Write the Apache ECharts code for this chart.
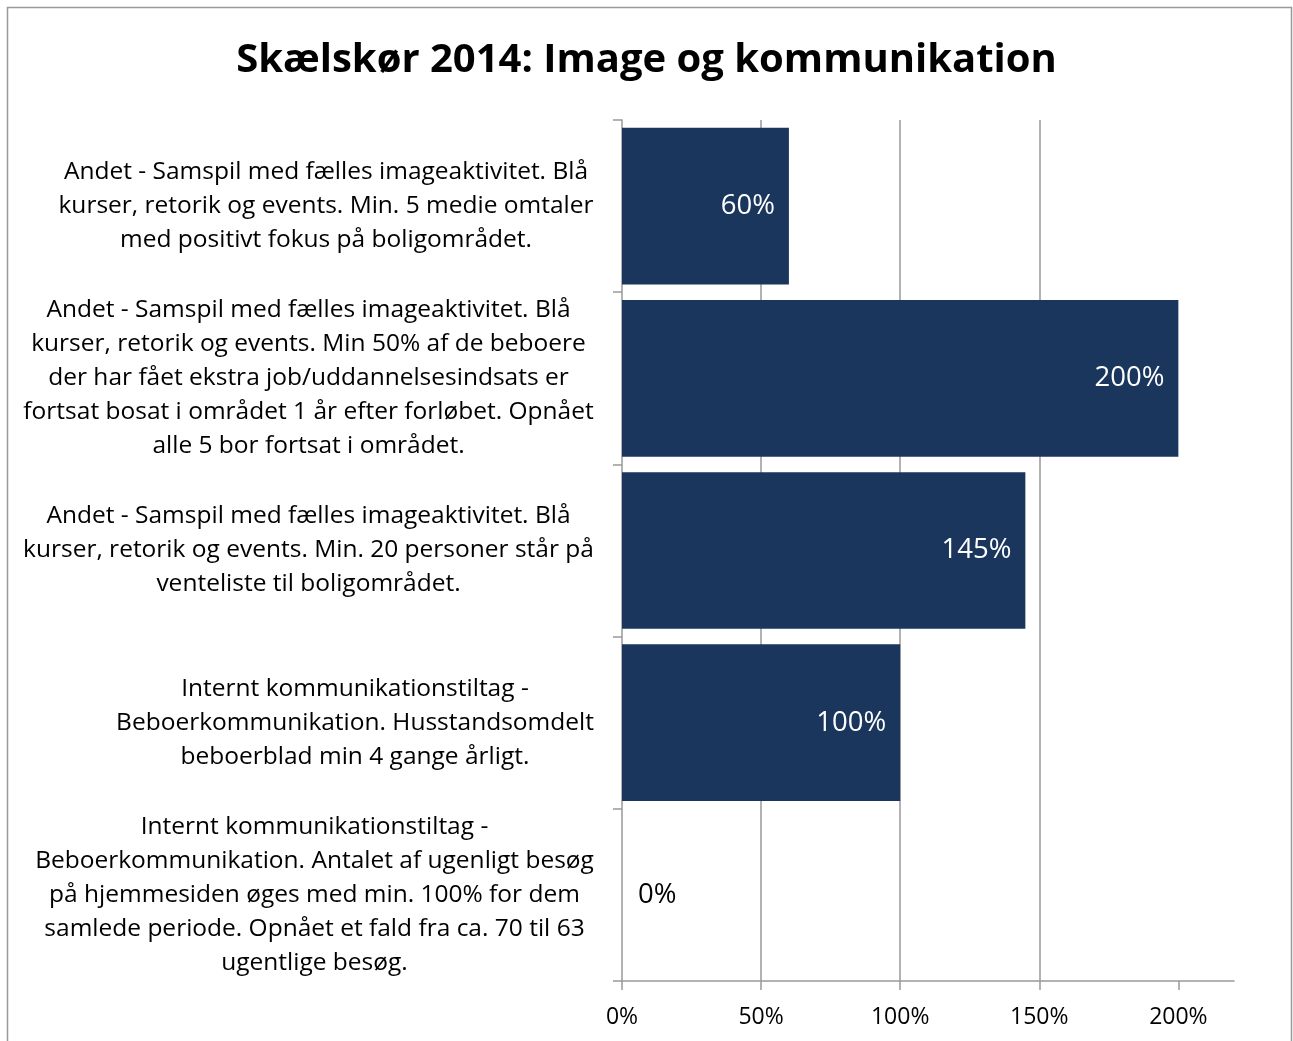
<!DOCTYPE html>
<html>
<head>
<meta charset="utf-8">
<script src="https://cdn.jsdelivr.net/npm/echarts@6/dist/echarts.min.js"></script>
<style>
html, body { margin: 0; padding: 0; background: #fff; }
#chart { width: 1293px; height: 1041px; }
</style>
</head>
<body>
<div id="chart"></div>
<script>
var categories = [
	'Andet - Samspil med fælles imageaktivitet. Blå\nkurser, retorik og events. Min. 5 medie omtaler\nmed positivt fokus på boligområdet.',
	'Andet - Samspil med fælles imageaktivitet. Blå\nkurser, retorik og events. Min 50% af de beboere\nder har fået ekstra job/uddannelsesindsats er\nfortsat bosat i området 1 år efter forløbet. Opnået\nalle 5 bor fortsat i området.',
	'Andet - Samspil med fælles imageaktivitet. Blå\nkurser, retorik og events. Min. 20 personer står på\nventeliste til boligområdet.',
	'Internt kommunikationstiltag -\nBeboerkommunikation. Husstandsomdelt\nbeboerblad min 4 gange årligt.',
	'Internt kommunikationstiltag -\nBeboerkommunikation. Antalet af ugenligt besøg\npå hjemmesiden øges med min. 100% for dem\nsamlede periode. Opnået et fald fra ca. 70 til 63\nugentlige besøg.'
];
var values = [60, 200, 145, 100, 0];
var xTicks = [0, 50, 100, 150, 200];

var FONT = '"Open Sans", sans-serif';
var catSize = 24.5;

// measure each label so its lines can be centred inside a right-aligned block
var ctx = document.createElement('canvas').getContext('2d');
ctx.font = catSize + 'px "Open Sans"';
var rich = {};
categories.forEach(function(c, i) {
	var w = 0;
	c.split('\n').forEach(function(l) {
		w = Math.max(w, ctx.measureText(l).width);
	});
	rich['c' + i] = {
		width: Math.ceil(w),
		align: 'center',
		fontSize: catSize,
		fontFamily: FONT,
		lineHeight: 34,
		color: '#000'
	};
});

var myChart = echarts.init(document.getElementById('chart'));

var option = {
	backgroundColor: '#fff',
	animation: false,
	title: {
		text: 'Skælskør 2014: Image og kommunikation',
		left: 'center',
		top: 36,
		textStyle: {
			fontFamily: FONT,
			fontWeight: 'bold',
			fontSize: 40,
			color: '#000'
		}
	},
	graphic: [{
		type: 'rect',
		shape: { x: 7.5, y: 7.5, width: 1284, height: 1100 },
		style: { fill: 'none', stroke: '#999', lineWidth: 1.5 },
		silent: true
	}],
	grid: {
		left: 622,
		right: 59,
		top: 120,
		bottom: 60
	},
	xAxis: {
		type: 'value',
		min: 0,
		max: 220,
		interval: 50,
		axisLine: { show: true, lineStyle: { color: '#999', width: 1.5 } },
		axisTick: { show: true, length: 9, customValues: xTicks, lineStyle: { color: '#999', width: 1.5 } },
		axisLabel: {
			customValues: xTicks,
			formatter: '{value}%',
			margin: 25,
			fontFamily: FONT,
			fontSize: 23,
			color: '#000'
		},
		splitLine: {
			show: true,
			showMinLine: false,
			showMaxLine: false,
			lineStyle: { color: '#999', width: 1.5 }
		}
	},
	yAxis: {
		type: 'category',
		inverse: true,
		data: categories,
		axisLine: { show: true, lineStyle: { color: '#999', width: 1.5 } },
		axisTick: { show: true, length: 9, lineStyle: { color: '#999', width: 1.5 } },
		axisLabel: {
			margin: 28,
			align: 'right',
			rich: rich,
			formatter: function(value, index) {
				return value.split('\n').map(function(l) {
					return '{c' + index + '|' + l + '}';
				}).join('\n');
			}
		}
	},
	series: [{
		type: 'bar',
		barCategoryGap: '9%',
		itemStyle: { color: '#1a365d' },
		label: {
			show: true,
			position: 'insideRight',
			distance: 14,
			formatter: '{c}%',
			fontFamily: FONT,
			fontSize: 27.5,
			color: '#fff'
		},
		data: values.map(function(v) {
			if (v === 0) {
				return { value: v, label: { position: 'right', distance: 16, color: '#000' } };
			}
			return v;
		})
	}]
};

myChart.setOption(option);
</script>
</body>
</html>
